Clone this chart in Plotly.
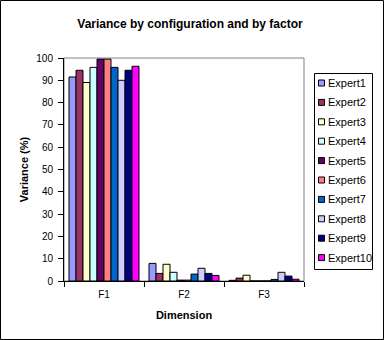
import plotly.graph_objects as go

categories = ["F1", "F2", "F3"]
experts = ["Expert1", "Expert2", "Expert3", "Expert4", "Expert5",
           "Expert6", "Expert7", "Expert8", "Expert9", "Expert10"]
values = {
    "Expert1": [91.5, 7.9, 0.3],
    "Expert2": [94.5, 3.4, 1.3],
    "Expert3": [89.0, 7.5, 2.6],
    "Expert4": [95.8, 3.9, 0.0],
    "Expert5": [99.5, 0.4, 0.0],
    "Expert6": [99.5, 0.4, 0.0],
    "Expert7": [95.8, 3.1, 0.7],
    "Expert8": [90.0, 5.7, 3.9],
    "Expert9": [94.5, 3.4, 2.2],
    "Expert10": [96.3, 2.5, 0.8],
}
colors = ["#9999FF", "#993366", "#FFFFCC", "#CCFFFF", "#660066",
          "#FF8080", "#0066CC", "#CCCCFF", "#000080", "#FF00FF"]
y_ticks = [0, 10, 20, 30, 40, 50, 60, 70, 80, 90, 100]

FONT = "Arial, Liberation Sans, sans-serif"

fig = go.Figure()
for name, col in zip(experts, colors):
    fig.add_trace(go.Bar(
        x=categories, y=values[name], name=name,
        marker=dict(color=col, line=dict(color="black", width=1)),
    ))

L, R, T, B = 64, 80, 58, 59
W, H = 384, 340
pw, ph = W - L - R, H - T - B


def px(x):
    return (x - L) / pw


def py(y):
    return (H - B - y) / ph


shapes = [
    dict(type="rect", xref="paper", yref="paper", x0=0, x1=1, y0=0, y1=1,
         line=dict(color="#808080", width=1), layer="below"),
    dict(type="rect", xref="paper", yref="paper",
         x0=px(0.5), x1=px(W - 0.5), y0=py(H - 0.5), y1=py(0.5),
         line=dict(color="black", width=1), layer="below"),
    # legend box
    dict(type="rect", xref="paper", yref="paper",
         x0=px(314.5), x1=px(372.5), y0=py(269.5), y1=py(73.5),
         line=dict(color="black", width=1), fillcolor="white", layer="above"),
]
annotations = []
for i, (name, col) in enumerate(zip(experts, colors)):
    cy = 83 + i * 19.4
    shapes.append(dict(type="rect", xref="paper", yref="paper",
                       x0=px(318.5), x1=px(324.5), y0=py(cy + 3), y1=py(cy - 3),
                       line=dict(color="black", width=1), fillcolor=col,
                       layer="above"))
    annotations.append(dict(xref="paper", yref="paper", x=px(326), y=py(cy),
                            xanchor="left", yanchor="middle", text=name,
                            showarrow=False,
                            font=dict(size=11, family=FONT, color="black")))

fig.update_layout(
    width=W, height=H,
    margin=dict(l=L, r=R, t=T, b=B, pad=0),
    paper_bgcolor="white", plot_bgcolor="white",
    barmode="group", bargap=0.125, bargroupgap=0,
    font=dict(family=FONT, size=10, color="black"),
    showlegend=False,
    title=dict(text="<b>Variance by configuration and by factor</b>",
               x=190 / W, xanchor="center", y=1 - 24 / H, yanchor="middle",
               font=dict(size=12, family=FONT)),
    xaxis=dict(
        showline=True, linecolor="black", linewidth=1,
        ticks="outside", ticklen=5, tickcolor="black", tickson="boundaries",
        ticklabelstandoff=4,
        showgrid=False, zeroline=False,
        title=dict(text="<b>Dimension</b>", font=dict(size=11, family=FONT), standoff=12),
    ),
    yaxis=dict(
        range=[0, 100], tickvals=y_ticks,
        showline=True, linecolor="black", linewidth=1,
        ticks="outside", ticklen=5, tickcolor="black",
        ticklabelstandoff=3,
        showgrid=False, zeroline=False,
        title=dict(text="<b>Variance (%)</b>", font=dict(size=11, family=FONT), standoff=5),
    ),
    shapes=shapes,
    annotations=annotations,
)

fig.write_html("out.html")
